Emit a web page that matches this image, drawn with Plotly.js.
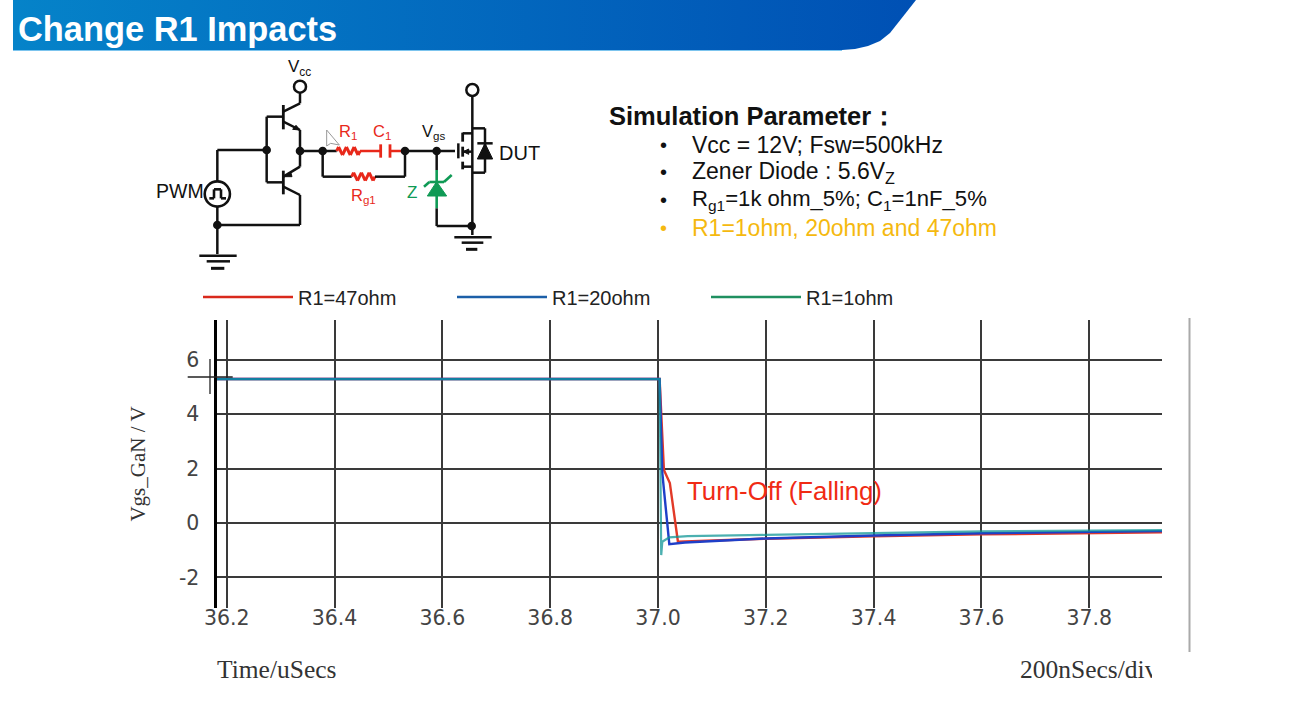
<!DOCTYPE html>
<html><head><meta charset="utf-8">
<script src="https://cdn.plot.ly/plotly-3.0.1.min.js"></script>
<style>html,body{margin:0;padding:0;background:#fff;overflow:hidden}#c{width:1304px;height:702px}
#mask{position:absolute;left:1152px;top:655px;width:30px;height:30px;background:#fff}</style>
</head><body><div id="c"></div><div id="mask"></div>
<script>
// ---- chart data ----
const xTicks = [36.2,36.4,36.6,36.8,37.0,37.2,37.4,37.6,37.8];
const xTickLabels = ["36.2","36.4","36.6","36.8","37.0","37.2","37.4","37.6","37.8"];
const yTicks = [-2,0,2,4,6];
const yTickLabels = ["-2","0","2","4","6"];
const seriesNames = ["R1=47ohm","R1=20ohm","R1=1ohm"];
const legendColors = ["#d9291c","#1c5fa8","#1f9060"];
const t47 = [36.181,37.003,37.011,37.022,37.037,37.1,37.2,37.4,37.6,37.935];
const v47 = [5.29,5.29,1.95,1.47,-0.69,-0.65,-0.58,-0.49,-0.42,-0.34];
const t20 = [36.181,37.003,37.008,37.021,37.05,37.2,37.4,37.6,37.935];
const v20 = [5.29,5.29,1.84,-0.78,-0.72,-0.57,-0.46,-0.38,-0.30];
const t1  = [36.181,37.003,37.006,37.008,37.021,37.055,37.2,37.4,37.6,37.935];
const v1  = [5.29,5.29,-1.18,-0.69,-0.53,-0.48,-0.44,-0.37,-0.31,-0.26];

const W=1304,H=702, L=216.5,R=1162,T=320,B=608;
// page-pixel overlay helpers (x2/y2 = page pixels); schematic given in 3x crop coordinates
const zx=x=>140+x/3, zy=y=>50+y/3;
const shapes=[];
const base={xref:'x2',yref:'y2',layer:'above'};
function line(x0,y0,x1,y1,color='#111',w=2.5){shapes.push({...base,type:'line',x0,y0,x1,y1,line:{color,width:w}});}
function wire(pts,color='#111',w=2.5){for(let i=0;i<pts.length-1;i++)line(zx(pts[i][0]),zy(pts[i][1]),zx(pts[i+1][0]),zy(pts[i+1][1]),color,w);}
function circle(cx,cy,r,fill,color='#111',w=2.5){shapes.push({...base,type:'circle',x0:zx(cx)-r,x1:zx(cx)+r,y0:zy(cy)-r,y1:zy(cy)+r,fillcolor:fill,line:{color,width:w}});}
function poly(pts,fill,color,w=1){shapes.push({...base,type:'path',path:'M'+pts.map(p=>zx(p[0])+','+zy(p[1])).join(' L')+' Z',fillcolor:fill,line:{color:color||fill,width:w}});}
function dot(x,y){circle(x,y,4.3,'#111','#111',0);}
function zig(x0,x1,y,color){const n=6,a=12,pts=[[x0,y]];for(let i=0;i<n;i++)pts.push([x0+(x1-x0)*(i+.5)/n,y+(i%2?a:-a)]);pts.push([x1,y]);wire(pts,color,3);}
const RED='#e8281a',GRN='#0f9a55';
// upper/lower transistor
circle(480,110,6,'#fff');
wire([[480,128],[480,160],[430,185]]);wire([[430,165],[430,238]],'#111',2.8);
wire([[380,200],[430,200]]);wire([[430,215],[480,240],[480,350],[430,380]]);
wire([[430,362],[430,433]],'#111',2.8);wire([[380,397],[430,397]]);
wire([[430,410],[480,435],[480,525],[232,525]]);wire([[380,200],[380,397]]);
poly([[480,240],[458,238],[468,226]],'#111');poly([[430,380],[452,366],[456,380]],'#111');
// input and PWM source
wire([[380,300],[232,300],[232,394]]);wire([[232,470],[232,612]]);
circle(232,432,12.6,'#fff','#111',2.6);
wire([[208,445],[222,445],[222,418],[243,418],[243,445],[258,445]],'#111',2.6);
wire([[178,617],[290,617]]);wire([[200,634],[270,634]]);wire([[213,655],[253,655]],'#111',3);
// output network
wire([[480,303],[590,303]]);
zig(590,660,303,RED);wire([[660,303],[722,303]],RED);
wire([[722,283],[722,323]],RED,2.8);wire([[750,283],[750,323]],RED,2.8);wire([[750,303],[795,303]],RED);
wire([[548,303],[548,380],[635,380]]);zig(635,705,380,RED);wire([[705,380],[795,380],[795,303]]);
wire([[795,303],[945,303]]);
// zener
wire([[890,303],[890,360]]);wire([[890,360],[890,475]],GRN,2.6);wire([[890,475],[890,528],[995,528]]);
poly([[890,395],[862,438],[920,438]],GRN);wire([[852,410],[868,396],[912,396],[935,375]],GRN,2.6);
// MOSFET with diode
circle(997,120,6,'#fff');wire([[997,138],[997,555]]);
wire([[955,280],[955,325]]);wire([[968,248],[968,275]],'#111',2.8);wire([[968,290],[968,320]],'#111',2.8);wire([[968,335],[968,358]],'#111',2.8);
wire([[968,250],[997,250]]);wire([[968,350],[997,350]]);wire([[968,305],[997,305]]);
poly([[970,305],[986,297],[986,313]],'#111');
wire([[997,235],[1035,235],[1035,368],[997,368]]);
poly([[1035,280],[1012,327],[1058,327]],'#111');wire([[1012,280],[1058,280]]);
wire([[943,562],[1055,562]]);wire([[965,578],[1030,578]]);wire([[978,598],[1012,598]],'#111',3);
[[380,300],[480,303],[548,303],[795,303],[890,303],[232,525],[995,528]].forEach(p=>dot(p[0],p[1]));
// pointer
poly([[560,240],[560,288],[572,280],[598,285]],'#fff','#999',1);
// header underline, right gray rule, y-cursor cross
line(13,50.5,842,50.5,'#7cc4ee',1);
line(1189.5,318,1189.5,652,'#aaaaaa',2);
line(187.7,377,232.7,377,'#222',1.3);line(210,359,210,394,'#222',1.3);

const ann=[];
function txt(x,y,text,size,color='#111',opt={}){ann.push({xref:'x2',yref:'y2',x:x-2,y,text,showarrow:false,xanchor:'left',yanchor:'middle',align:'left',font:{family:'"Liberation Sans",Arial,sans-serif',size,color},...opt});}
txt(18,29,'<b>Change R1 Impacts</b>',34.4,'#fff');
txt(288,68,'V<sub>cc</sub>',17);
txt(156,191,'PWM',19.5);
txt(339,132,'R<sub>1</sub>',16.5,RED);txt(373,132,'C<sub>1</sub>',16.5,RED);
txt(422,132,'V<sub>gs</sub>',16.5);txt(499,153,'DUT',20);
txt(351,196,'R<sub>g1</sub>',16.5,RED);txt(407,192,'Z',17,GRN);
txt(609,116,'<b>Simulation Parameter：</b>',25.5);
const bul=[[145,'Vcc = 12V; Fsw=500kHz','#111',23],[172,'Zener Diode : 5.6V<sub>Z</sub>','#111',23],[200,'R<sub>g1</sub>=1k ohm_5%; C<sub>1</sub>=1nF_5%','#111',22.1],[228,'R1=1ohm, 20ohm and 47ohm','#f5b90f',23]];
bul.forEach(b=>{txt(660,b[0],'•',20,b[2]);txt(692,b[0],b[1],b[3],b[2]);});
txt(687,491,'Turn-Off (Falling)',25.8,'#f02a14');
const serif='"Liberation Serif","Times New Roman",serif';
txt(217,669,'Time/uSecs',25.5,'#333',{font:{family:serif,size:25.5,color:'#333'}});
txt(1020,669,'200nSecs/div',25.5,'#333',{font:{family:serif,size:25.5,color:'#333'}});

const traces=[
 {x:t47,y:v47,name:seriesNames[0],mode:'lines',line:{color:'#e23a28',width:2.4},showlegend:false},
 {x:t20,y:v20,name:seriesNames[1],mode:'lines',line:{color:'#1f3fc8',width:2.4},showlegend:false},
 {x:t1,y:v1,name:seriesNames[2],mode:'lines',line:{color:'rgba(15,150,150,0.75)',width:2.2},showlegend:false},
 {x:[13,916,905,890,880,868,855,842,13,13],y:[0,0,14,33,41,46,49,50,50,0],xaxis:'x2',yaxis:'y2',mode:'lines',fill:'toself',line:{width:0},
  fillgradient:{type:'horizontal',colorscale:[[0,'#0583c9'],[1,'#0050b4']]},showlegend:false,hoverinfo:'skip'}
];
// legend keys: the reference's legend colours differ from its blended plot colours
seriesNames.forEach((n,i)=>traces.push({x:[null],y:[null],name:n,mode:'lines',line:{color:legendColors[i],width:2.6}}));
const layout={
 width:W,height:H,margin:{l:0,r:0,t:0,b:0},paper_bgcolor:'#fff',plot_bgcolor:'rgba(0,0,0,0)',
 font:{family:'"DejaVu Sans",sans-serif',color:'#444'},
 xaxis:{domain:[L/W,R/W],range:[36.181,37.935],tickmode:'array',tickvals:xTicks,ticktext:xTickLabels,showgrid:true,gridcolor:'#3a3a3a',gridwidth:1.6,zeroline:false,showline:false,ticks:'',tickfont:{size:20.5,color:'#444'},ticklabelstandoff:-5,anchor:'y'},
 yaxis:{domain:[1-B/H,1-T/H],range:[-3.125,7.46],tickmode:'array',tickvals:yTicks,ticktext:yTickLabels,showgrid:true,gridcolor:'#3a3a3a',gridwidth:1.6,zeroline:false,showline:true,linecolor:'#000',linewidth:3,ticks:'',tickfont:{size:20.5,color:'#444'},ticklabelstandoff:10,anchor:'x',
   title:{text:'Vgs_GaN / V',font:{family:serif,size:21,color:'#333'},standoff:28}},
 xaxis2:{domain:[0,1],range:[0,W],visible:false,anchor:'y2',fixedrange:true},
 yaxis2:{domain:[0,1],range:[H,0],visible:false,anchor:'x2',fixedrange:true},
 legend:{orientation:'h',x:198/W,xanchor:'left',y:1-297/H,yanchor:'middle',itemwidth:90,entrywidth:149,entrywidthmode:'pixels',font:{family:'"Liberation Sans",Arial,sans-serif',size:20,color:'#222'},bgcolor:'rgba(0,0,0,0)',traceorder:'normal'},
 shapes,annotations:ann,showlegend:true
};
Plotly.newPlot('c',traces,layout,{displayModeBar:false,responsive:false});
</script></body></html>
